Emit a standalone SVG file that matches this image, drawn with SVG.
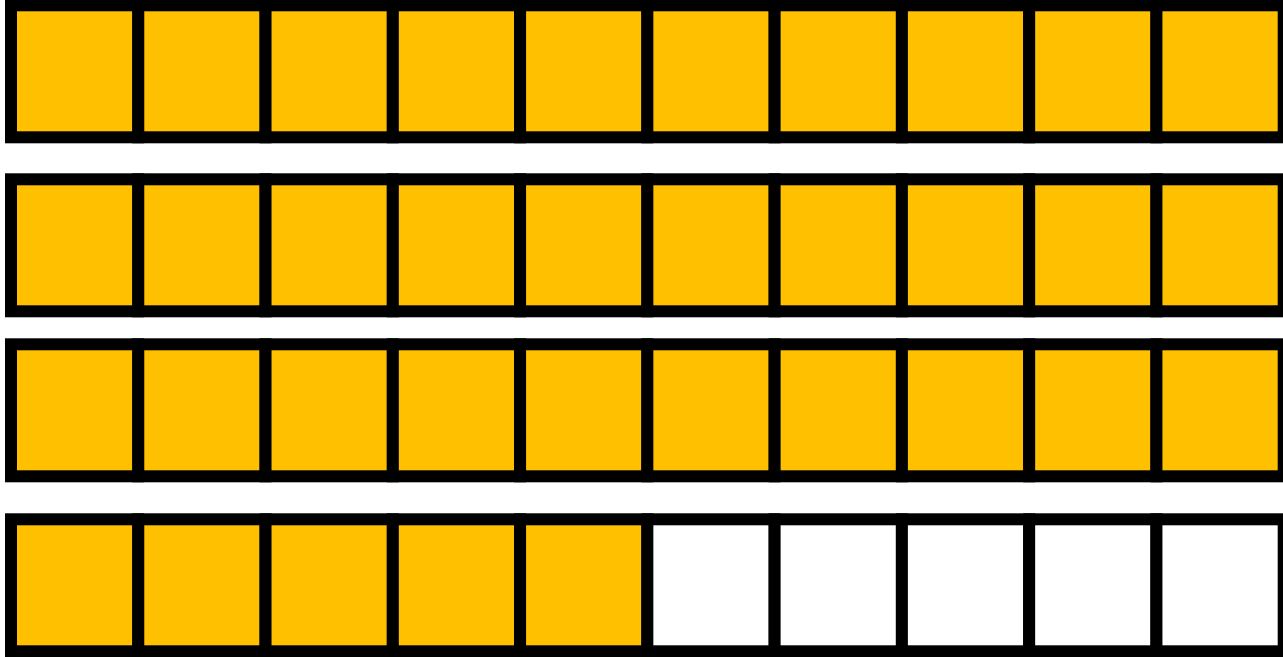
<svg xmlns="http://www.w3.org/2000/svg" width="1283" height="657" viewBox="0 0 1283 657">
<style>
.c{stroke:#000;stroke-width:12;}
.f{fill:#FFC000;}
.e{fill:#FFFFFF;}
</style>
<rect width="1283" height="657" fill="#fff"/>
<g id="row1">
<rect class="c f" x="11" y="5.3" width="127.27" height="132"/>
<rect class="c f" x="138.27" y="5.3" width="127.27" height="132"/>
<rect class="c f" x="265.54" y="5.3" width="127.27" height="132"/>
<rect class="c f" x="392.81" y="5.3" width="127.27" height="132"/>
<rect class="c f" x="520.08" y="5.3" width="127.27" height="132"/>
<rect class="c f" x="647.35" y="5.3" width="127.27" height="132"/>
<rect class="c f" x="774.62" y="5.3" width="127.27" height="132"/>
<rect class="c f" x="901.89" y="5.3" width="127.27" height="132"/>
<rect class="c f" x="1029.16" y="5.3" width="127.27" height="132"/>
<rect class="c f" x="1156.43" y="5.3" width="127.27" height="132"/>
</g>
<g id="row2">
<rect class="c f" x="11" y="179.3" width="127.27" height="132"/>
<rect class="c f" x="138.27" y="179.3" width="127.27" height="132"/>
<rect class="c f" x="265.54" y="179.3" width="127.27" height="132"/>
<rect class="c f" x="392.81" y="179.3" width="127.27" height="132"/>
<rect class="c f" x="520.08" y="179.3" width="127.27" height="132"/>
<rect class="c f" x="647.35" y="179.3" width="127.27" height="132"/>
<rect class="c f" x="774.62" y="179.3" width="127.27" height="132"/>
<rect class="c f" x="901.89" y="179.3" width="127.27" height="132"/>
<rect class="c f" x="1029.16" y="179.3" width="127.27" height="132"/>
<rect class="c f" x="1156.43" y="179.3" width="127.27" height="132"/>
</g>
<g id="row3">
<rect class="c f" x="11" y="344.3" width="127.27" height="132"/>
<rect class="c f" x="138.27" y="344.3" width="127.27" height="132"/>
<rect class="c f" x="265.54" y="344.3" width="127.27" height="132"/>
<rect class="c f" x="392.81" y="344.3" width="127.27" height="132"/>
<rect class="c f" x="520.08" y="344.3" width="127.27" height="132"/>
<rect class="c f" x="647.35" y="344.3" width="127.27" height="132"/>
<rect class="c f" x="774.62" y="344.3" width="127.27" height="132"/>
<rect class="c f" x="901.89" y="344.3" width="127.27" height="132"/>
<rect class="c f" x="1029.16" y="344.3" width="127.27" height="132"/>
<rect class="c f" x="1156.43" y="344.3" width="127.27" height="132"/>
</g>
<g id="row4">
<rect class="c f" x="11" y="519.3" width="127.27" height="132"/>
<rect class="c f" x="138.27" y="519.3" width="127.27" height="132"/>
<rect class="c f" x="265.54" y="519.3" width="127.27" height="132"/>
<rect class="c f" x="392.81" y="519.3" width="127.27" height="132"/>
<rect class="c f" x="520.08" y="519.3" width="127.27" height="132"/>
<rect class="c e" x="647.35" y="519.3" width="127.27" height="132"/>
<rect class="c e" x="774.62" y="519.3" width="127.27" height="132"/>
<rect class="c e" x="901.89" y="519.3" width="127.27" height="132"/>
<rect class="c e" x="1029.16" y="519.3" width="127.27" height="132"/>
<rect class="c e" x="1156.43" y="519.3" width="127.27" height="132"/>
</g>
</svg>
